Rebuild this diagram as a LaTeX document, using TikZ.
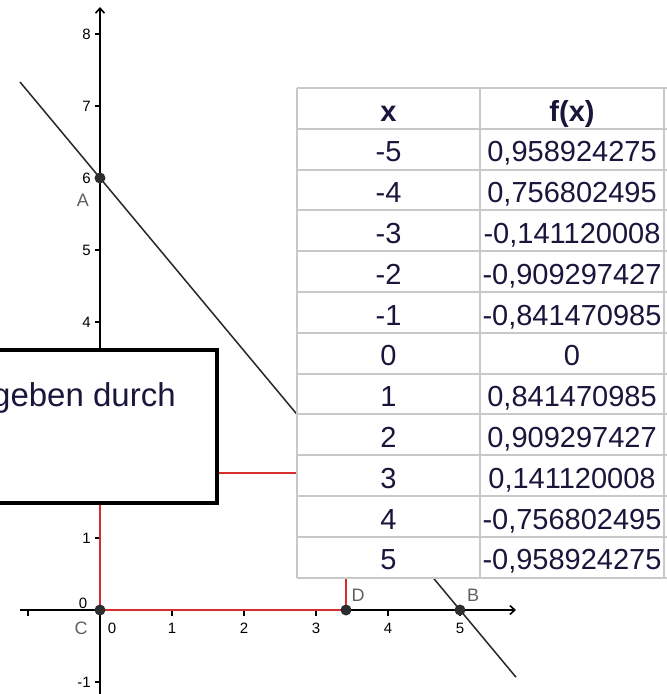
\documentclass[tikz,border=0pt]{standalone}
\usepackage{fontspec}
\setmainfont{Liberation Sans}
\usetikzlibrary{arrows.meta,calc}
\definecolor{gridgrey}{RGB}{200,200,200}
\definecolor{redline}{RGB}{215,45,45}
\definecolor{ptgrey}{RGB}{45,45,45}
\definecolor{navy}{RGB}{25,22,60}
\definecolor{lblgrey}{RGB}{95,95,95}
\definecolor{linegrey}{RGB}{40,40,40}
\begin{document}
\begin{tikzpicture}[x=1pt,y=-1pt,
  axis/.style={line width=1.6pt, black},
  ticks/.style={line width=1.1pt, black},
  ticklbl/.style={font=\fontsize{15}{15}\selectfont, text=black, inner sep=0pt},
  ptlbl/.style={font=\fontsize{18}{18}\selectfont, text=lblgrey, inner sep=0pt},
  pt/.style={circle, fill=ptgrey, minimum size=11pt, inner sep=0pt},
  redpath/.style={line width=2pt, redline},
  gline/.style={line width=1.5pt, linegrey},
  boxframe/.style={line width=3.2pt, black, fill=white},
  boxtext/.style={font=\fontsize{33}{33}\selectfont, text=navy, inner sep=0pt, anchor=base west},
  cell/.style={font=\fontsize{29}{29}\selectfont, text=navy, inner sep=0pt, anchor=base},
  tline/.style={line width=2pt, gridgrey}]
\useasboundingbox (0,0) rectangle (667,694);

% axes
\coordinate (xs) at (20,610);
\coordinate (xe) at (516,610);
\coordinate (ys) at (100,694);
\coordinate (ye) at (100,7);
\draw[axis,-{Straight Barb[length=5pt,width=9pt]}] (xs) -- (xe);
\draw[axis,-{Straight Barb[length=5pt,width=9pt]}] (ys) -- (ye);

% ticks
\foreach \k in {-1,1,2,3,4,5} \draw[ticks] ({100+72*\k},610) -- ({100+72*\k},616);
\foreach \v in {-1,1,2,3,4,5,6,7,8} \draw[ticks] (95,{610-72*\v}) -- (100,{610-72*\v});

% tick labels
\foreach \v in {1,4,5,6,7,8} \node[ticklbl,anchor=east] (yl\v) at (91,{610-72*\v}) {\v};
\node[ticklbl,anchor=east] (ylm1) at (91,682) {-1};
\node[ticklbl] (yl0) at (83,603) {0};
\node[ticklbl] (xl0) at (112,628) {0};
\foreach \k in {1,2,3,4,5} \node[ticklbl] (xl\k) at ({100+72*\k},628) {\k};

% points coordinates
\coordinate (Ac) at (100,178);
\coordinate (Bc) at (460,610);
\coordinate (Cc) at (100,610);
\coordinate (Dc) at (346,610);
\coordinate (Dt) at (346,473);
\coordinate (Ct) at (100,473);

% line through A and B
\coordinate (L1) at ($(Ac)!-0.2222!(Bc)$);
\coordinate (L2) at ($(Ac)!1.1556!(Bc)$);
\draw[gline] (L1) -- (L2);

% red rectangle
\draw[redpath] (Cc) -- (Dc) -- (Dt) -- (Ct) -- cycle;

% points
\node[pt] (A) at (Ac) {};
\node[pt] (B) at (Bc) {};
\node[pt] (C) at (Cc) {};
\node[pt] (D) at (Dc) {};
\node[ptlbl] (Al) at (83,200) {A};
\node[ptlbl] (Bl) at (473,595) {B};
\node[ptlbl] (Cl) at (81,628) {C};
\node[ptlbl] (Dl) at (358,595) {D};

% text box
\draw[boxframe] (-10,350) rectangle (217,503);
\node[boxtext] (bt) at (-8,406) {geben durch};

% table
\fill[white] (297,88) rectangle (667,578);
\foreach \i in {0,...,12} \draw[tline] (297,{88+40.8*\i}) -- (667,{88+40.8*\i});
\draw[tline] (297,88) -- (297,578);
\draw[tline] (480,88) -- (480,578);
\draw[tline] (664,88) -- (664,578);
\node[cell,font=\fontsize{29}{29}\selectfont\bfseries] (hx) at (388.5,{88+33}) {x};
\node[cell,font=\fontsize{29}{29}\selectfont\bfseries] (hf) at (572,{88+33}) {f(x)};
\foreach \xv/\fv [count=\i] in {-5/{0,958924275},-4/{0,756802495},-3/{-0,141120008},-2/{-0,909297427},-1/{-0,841470985},0/{0},1/{0,841470985},2/{0,909297427},3/{0,141120008},4/{-0,756802495},5/{-0,958924275}}{
  \node[cell] (x\i) at (388.5,{88+40.8*\i+33}) {\xv};
  \node[cell] (f\i) at (572,{88+40.8*\i+33}) {\fv};
}
\end{tikzpicture}
\end{document}
